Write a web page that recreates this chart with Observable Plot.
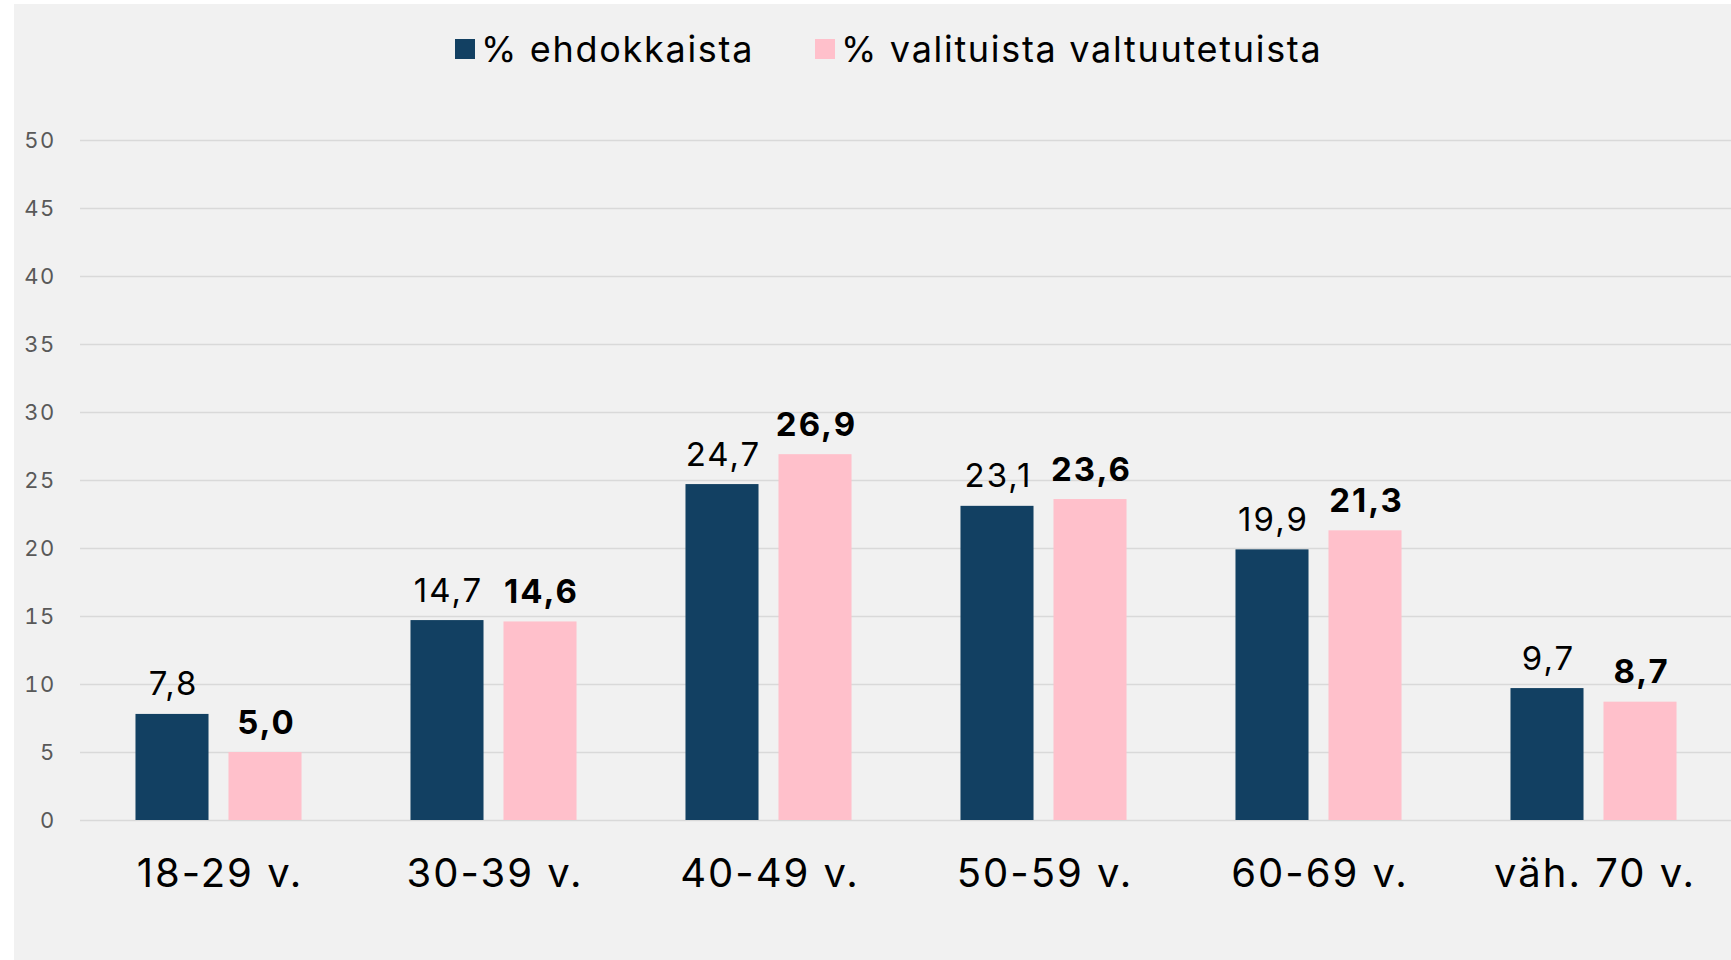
<!DOCTYPE html>
<html>
<head>
<meta charset="utf-8">
<script src="https://cdn.jsdelivr.net/npm/d3@7"></script>
<script src="https://cdn.jsdelivr.net/npm/@observablehq/plot@0.6"></script>
<style>
  html, body { margin: 0; padding: 0; background: #ffffff; }
  #frame {
    position: absolute; left: 14px; top: 4px; width: 1717px; height: 956px;
    background: #f1f1f1; font-family: Inter, "Noto Sans", sans-serif;
  }
  #legend { position: relative; height: 96px; }
  .item { position: absolute; top: 23px; display: flex; align-items: center; font-size: 36px; color: #000; letter-spacing: 1.7px; }
  .sw { width: 20px; height: 20px; margin-right: 6px; }
  #chart svg { display: block; }
  #chart g[aria-label="x-axis tick label"] text { letter-spacing: 2px; }
  #chart g[aria-label="y-axis tick label"] text { letter-spacing: 1.3px; }
  #chart g[aria-label="text"] text { letter-spacing: 2px; }
</style>
</head>
<body>
<div id="frame">
  <div id="legend"></div>
  <div id="chart"></div>
</div>
<script>
const categories = ["18-29 v.", "30-39 v.", "40-49 v.", "50-59 v.", "60-69 v.", "väh. 70 v."];
const ehdokkaista = [7.8, 14.7, 24.7, 23.1, 19.9, 9.7];
const valituista = [5.0, 14.6, 26.9, 23.6, 21.3, 8.7];
const yTicks = [0, 5, 10, 15, 20, 25, 30, 35, 40, 45, 50];
const seriesNames = ["% ehdokkaista", "% valituista valtuutetuista"];
const seriesColors = ["#124062", "#ffc0cb"];

const fmt = v => d3.format(".1f")(v).replace(".", ",");

const dataA = categories.map((c, i) => ({cat: c, value: ehdokkaista[i]}));
const dataB = categories.map((c, i) => ({cat: c, value: valituista[i]}));

// legend
const legend = document.getElementById("legend");
const legendLeft = [441, 801];
seriesNames.forEach((name, i) => {
  const it = document.createElement("div");
  it.className = "item";
  it.style.left = legendLeft[i] + "px";
  const sw = document.createElement("div");
  sw.className = "sw";
  sw.style.background = seriesColors[i];
  const tx = document.createElement("span");
  tx.textContent = name;
  it.appendChild(sw); it.appendChild(tx);
  legend.appendChild(it);
});

const W = 1717, H = 860;
const mL = 66, mR = 0;
const band = (W - mL - mR) / categories.length;
const outer = band * 0.198;  // space from band edge to outer bar edge
const inner = band * 0.536;  // inset on the opposite side
const off = band / 2 - outer - (band - outer - inner) / 2;

const chart = Plot.plot({
  width: W,
  height: H,
  marginLeft: mL,
  marginRight: mR,
  marginTop: 40,
  marginBottom: 140,
  style: {background: "transparent", fontFamily: "Inter, 'Noto Sans', sans-serif"},
  x: {domain: categories, padding: 0, label: null, tickSize: 0, tickPadding: 38},
  y: {domain: [0, 50], ticks: yTicks, label: null, tickSize: 0, tickPadding: 25},
  marks: [
    Plot.ruleY(yTicks, {stroke: "#d9d9d9", strokeWidth: 1.4}),
    Plot.barY(dataA, {x: "cat", y: "value", fill: seriesColors[0], insetLeft: outer, insetRight: inner}),
    Plot.barY(dataB, {x: "cat", y: "value", fill: seriesColors[1], insetLeft: inner, insetRight: outer}),
    Plot.text(dataA, {x: "cat", y: "value", text: d => fmt(d.value), dx: -off + 1, dy: -19, lineAnchor: "bottom", fontSize: 33, fill: "#000"}),
    Plot.text(dataB, {x: "cat", y: "value", text: d => fmt(d.value), dx: off + 1, dy: -19, lineAnchor: "bottom", fontSize: 33, fontWeight: "bold", fill: "#000"}),
    Plot.axisX({tickSize: 0, tickPadding: 38, fontSize: 40, color: "#000", label: null, dx: 1}),
    Plot.axisY(yTicks, {tickSize: 0, tickPadding: 25, fontSize: 22, color: "#595959", label: null})
  ]
});
document.getElementById("chart").appendChild(chart);
</script>
</body>
</html>
